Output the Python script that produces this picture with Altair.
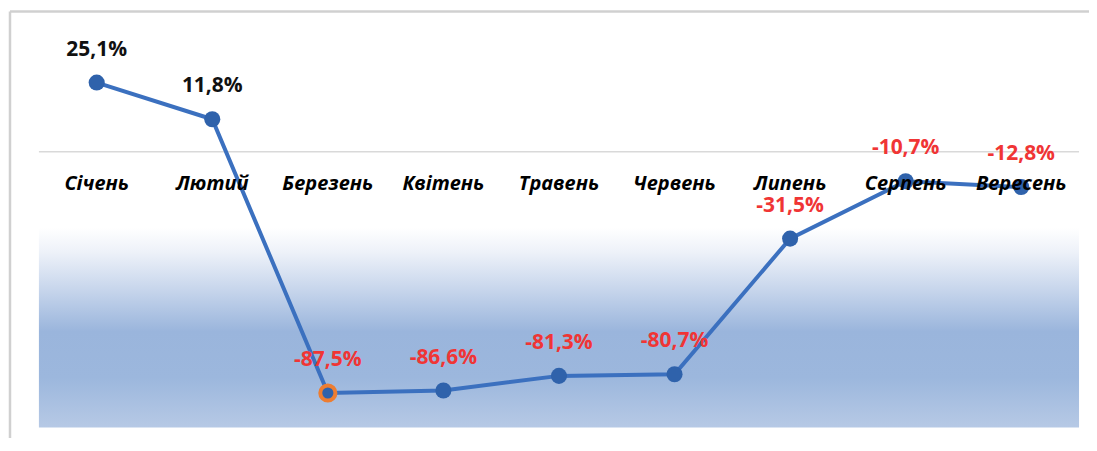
import altair as alt
import pandas as pd

months = ["Січень", "Лютий", "Березень", "Квітень", "Травень", "Червень", "Липень", "Серпень", "Вересень"]
values = [25.1, 11.8, -87.5, -86.6, -81.3, -80.7, -31.5, -10.7, -12.8]
labels = ["25,1%", "11,8%", "-87,5%", "-86,6%", "-81,3%", "-80,7%", "-31,5%", "-10,7%", "-12,8%"]
highlight_month = "Березень"

df = pd.DataFrame({
    "month": months,
    "value": values,
    "label": labels,
    "zero": [0.0] * len(months),
})

W, H = 1043, 387
FONT = "Open Sans"
yscale = alt.Scale(domain=[-100, 40], nice=False, zero=False)

x = alt.X("month:N", sort=months, axis=None,
          scale=alt.Scale(type="point", padding=0.5))
y = alt.Y("value:Q", axis=None, scale=yscale)

band = pd.DataFrame({"top": [-27.5], "bottom": [-100.0]})
grad = alt.Chart(band).mark_rect(
    color=alt.LinearGradient(
        gradient="linear", x1=0, x2=0, y1=0, y2=1,
        stops=[
            alt.GradientStop(offset=0, color="#ffffff"),
            alt.GradientStop(offset=0.12, color="#eef2f9"),
            alt.GradientStop(offset=0.32, color="#c5d4eb"),
            alt.GradientStop(offset=0.52, color="#9ab5dc"),
            alt.GradientStop(offset=0.75, color="#9cb7dd"),
            alt.GradientStop(offset=1, color="#b6c9e5"),
        ],
    )
).encode(
    y=alt.Y("top:Q", scale=yscale, axis=None),
    y2="bottom:Q",
)

zero_df = pd.DataFrame({"z": [0.0]})
zero = alt.Chart(zero_df).mark_rule(color="#d9d9d9", strokeWidth=1.5).encode(
    y=alt.Y("z:Q", scale=yscale, axis=None),
)

frame_df = pd.DataFrame({"a": [0]})
frame_top = alt.Chart(frame_df).mark_rule(color="#d0d0d0", strokeWidth=2.5).encode(
    x=alt.value(-29), x2=alt.value(1070), y=alt.value(-30)
)
frame_left = alt.Chart(frame_df).mark_rule(color="#d0d0d0", strokeWidth=2.5).encode(
    x=alt.value(-29), y=alt.value(-30), y2=alt.value(420)
)

base = alt.Chart(df)
line = base.mark_line(color="#3b70bf", strokeWidth=4).encode(x=x, y=y)
pts = base.mark_circle(size=260, opacity=1, color="#2f62ab").encode(x=x, y=y)
hl = base.transform_filter(alt.datum.month == highlight_month).mark_circle(
    size=230, opacity=1, color="#2f62ab", stroke="#ed7d31", strokeWidth=4
).encode(x=x, y=y)
month_text = base.mark_text(
    font=FONT, fontSize=20, fontWeight="bold", fontStyle="italic",
    baseline="middle", dy=32, color="black"
).encode(x=x, y=alt.Y("zero:Q", scale=yscale, axis=None), text="month:N")
pos_text = base.transform_filter(alt.datum.value >= 0).mark_text(
    font=FONT, fontSize=21, fontWeight="bold", baseline="middle", dy=-33, color="#111111"
).encode(x=x, y=y, text="label:N")
neg_text = base.transform_filter(alt.datum.value < 0).mark_text(
    font=FONT, fontSize=21, fontWeight="bold", baseline="middle", dy=-33, color="#f03535"
).encode(x=x, y=y, text="label:N")

chart = alt.layer(grad, zero, frame_top, frame_left, line, pts, hl, month_text, pos_text, neg_text).properties(
    width=W, height=H,
    autosize=alt.AutoSizeParams(type="none"),
    padding={"left": 31, "top": 33, "right": 10, "bottom": 10},
).configure_view(stroke=None)

chart.save("out.html", embed_options={"renderer": "svg", "actions": False})
